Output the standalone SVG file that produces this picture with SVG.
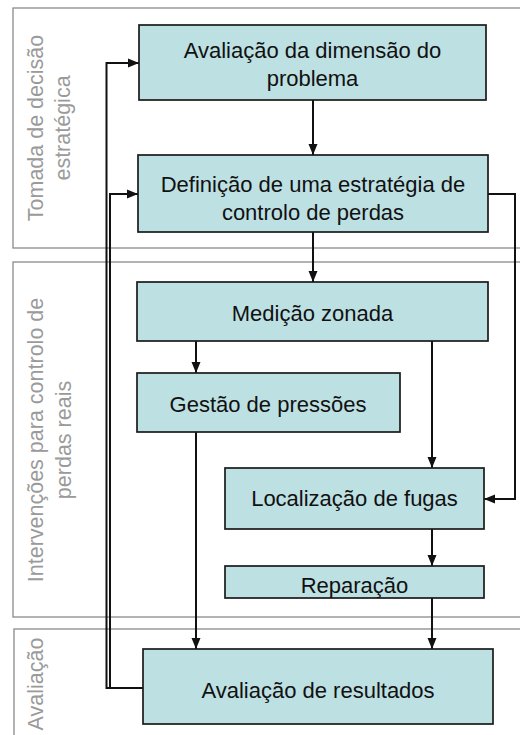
<svg xmlns="http://www.w3.org/2000/svg" width="520" height="735" viewBox="0 0 520 735">
<defs>
<marker id="arr" markerUnits="userSpaceOnUse" markerWidth="11" markerHeight="11" viewBox="0 0 11 11" refX="11" refY="5.5" orient="auto">
<path d="M0,1 L11,5.5 L0,10 Z" fill="#111"/>
</marker>
</defs>
<style>
.sec{fill:none;stroke:#8a8a8a;stroke-width:1.3}
.lab{font-family:"Liberation Sans",Arial,sans-serif;font-size:21.5px;fill:#9a9a9a;text-anchor:middle}
.box{fill:#bde0e3;stroke:#1a1a1a;stroke-width:1.7}
.t{font-family:"Liberation Sans",Arial,sans-serif;font-size:22px;fill:#111;text-anchor:middle}
.c{fill:none;stroke:#111;stroke-width:2}
</style>
<rect width="520" height="735" fill="#fff"/>
<g id="sections">
<rect class="sec" x="13" y="8" width="520" height="240"/>
<rect class="sec" x="13" y="262" width="520" height="355"/>
<rect class="sec" x="14" y="629" width="520" height="120"/>
<text class="lab" transform="translate(42.5,128) rotate(-90)">Tomada de decisão</text>
<text class="lab" transform="translate(69.5,128) rotate(-90)">estratégica</text>
<text class="lab" transform="translate(42.5,440) rotate(-90)">Intervenções para controlo de</text>
<text class="lab" transform="translate(70.5,440) rotate(-90)">perdas reais</text>
<text class="lab" transform="translate(42.5,684) rotate(-90)">Avaliação</text>
</g>
<g id="connectors">
<line class="c" x1="313" y1="100" x2="313" y2="155" marker-end="url(#arr)"/>
<line class="c" x1="313" y1="232" x2="313" y2="282" marker-end="url(#arr)"/>
<line class="c" x1="196" y1="341" x2="196" y2="373" marker-end="url(#arr)"/>
<line class="c" x1="432" y1="341" x2="432" y2="468" marker-end="url(#arr)"/>
<path class="c" d="M488,194 H515 V499 H484" marker-end="url(#arr)"/>
<line class="c" x1="432" y1="529" x2="432" y2="566" marker-end="url(#arr)"/>
<line class="c" x1="196" y1="432" x2="196" y2="649" marker-end="url(#arr)"/>
<line class="c" x1="432" y1="598" x2="432" y2="649" marker-end="url(#arr)"/>
<path class="c" d="M143,688 H106.5 V63 H139" marker-end="url(#arr)"/>
<path class="c" d="M143,688 H110 V194 H138" marker-end="url(#arr)"/>
</g>
<g id="n1">
<rect class="box" x="139" y="25" width="347" height="75"/>
<text class="t" x="312.5" y="58">Avaliação da dimensão do</text>
<text class="t" x="312.5" y="86">problema</text>
</g>
<g id="n2">
<rect class="box" x="138" y="155" width="350" height="77"/>
<text class="t" x="313" y="192">Definição de uma estratégia de</text>
<text class="t" x="313" y="220">controlo de perdas</text>
</g>
<g id="n3">
<rect class="box" x="137" y="282" width="351" height="59"/>
<text class="t" x="312.5" y="320.5">Medição zonada</text>
</g>
<g id="n4">
<rect class="box" x="137" y="373" width="263" height="59"/>
<text class="t" x="268" y="411.5">Gestão de pressões</text>
</g>
<g id="n5">
<rect class="box" x="225" y="468" width="259" height="61"/>
<text class="t" x="354.5" y="505.5">Localização de fugas</text>
</g>
<g id="n6">
<rect class="box" x="225" y="566" width="259" height="32"/>
<text class="t" x="354.5" y="592.5">Reparação</text>
</g>
<g id="n7">
<rect class="box" x="143" y="649" width="350" height="75"/>
<text class="t" x="318" y="697.5">Avaliação de resultados</text>
</g>
</svg>
